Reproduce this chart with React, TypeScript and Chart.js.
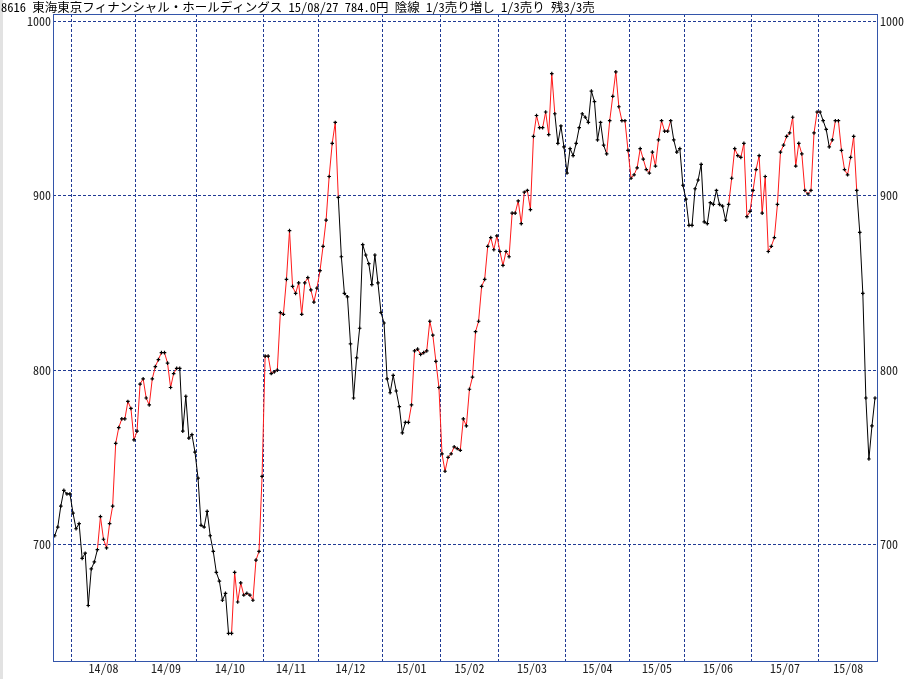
import React, { useEffect, useRef } from 'react';
import { Chart, registerables } from 'chart.js';

Chart.register(...registerables);

const TITLE = '8616 東海東京フィナンシャル・ホールディングス 15/08/27 784.0円 陰線 1/3売り増し 1/3売り 残3/3売';

const monthLabels = ['14/08', '14/09', '14/10', '14/11', '14/12', '15/01', '15/02', '15/03', '15/04', '15/05', '15/06', '15/07', '15/08'];
// index of the first trading day of each month in the closes array
const monthStartIndex = [6, 27, 47, 69, 87, 108, 127, 146, 168, 189, 207, 229, 251];
const priceTicks = [700, 800, 900, 1000];

// daily closes, 2014/07/24 .. 2015/08/27
const closes = [
  705, 710, 722, 731, 729, 729,
  718, 709, 712, 692, 695, 665, 686, 690, 697, 716, 703, 698, 712, 722, 758, 767, 772, 772, 782, 778, 760,
  765, 792, 795, 784, 780, 795, 802, 806, 810, 810, 804, 790, 798, 801, 801, 765, 785, 761, 763, 753,
  738, 711, 710, 719, 705, 696, 684, 679, 668, 672, 649, 649, 684, 667, 678, 671, 672, 671, 668, 691, 696, 739,
  808, 808, 798, 799, 800, 833, 832, 852, 880, 848, 844, 850, 832, 850, 853, 846, 839, 847,
  857, 871, 886, 911, 930, 942, 899, 865, 844, 842, 815, 784, 807, 824, 872, 866, 861, 849, 866, 850, 833,
  827, 795, 787, 797, 788, 779, 764, 770, 770, 780, 811, 812, 809, 810, 811, 828, 820, 805, 790,
  752, 742, 750, 752, 756, 755, 754, 772, 768, 789, 796, 822, 828, 848, 852, 871, 876, 869, 877,
  868, 860, 868, 865, 890, 890, 897, 884, 902, 903, 892, 934, 946, 939, 939, 948, 935, 970, 947, 930, 940, 928,
  913, 927, 923, 930, 939, 947, 945, 942, 960, 954, 932, 942, 929, 924, 943, 957, 971, 951, 943, 943, 926,
  910, 912, 916, 927, 921, 915, 913, 925, 917, 932, 943, 937, 937, 943, 932, 925, 927, 906,
  898, 883, 883, 904, 909, 918, 885, 884, 896, 895, 903, 895, 894, 886, 895, 910, 927, 923, 922, 930, 888, 891,
  903, 915, 923, 890, 911, 868, 871, 876, 895, 925, 929, 934, 936, 945, 917, 930, 924, 903, 901, 903, 936, 948,
  948, 943, 938, 928, 932, 943, 943, 926, 915, 912, 922, 934, 903, 879, 844, 784, 749, 768, 784,
];

// segment index ranges [from, to) drawn in the up-trend colour
const upTrendSpans: number[][] = [[14, 41], [58, 93], [116, 164], [181, 202], [221, 251], [254, 263]];

const RED = '#ff1a1a';
const BLACK = '#000000';
const GRID = '#203a94';
const FRAME = '#3355aa';
const FONT_FAMILY = '"Noto Sans Mono CJK JP", "Noto Sans CJK JP", monospace';

const X_MIN = -0.56;
const X_MAX = 269.98;
const Y_MIN = 632.6;
const Y_MAX = 1004.2;

export default function App() {
  const ref = useRef<HTMLCanvasElement | null>(null);

  useEffect(() => {
    if (!ref.current) return;
    const boundaries = monthStartIndex.map((s) => s - 0.5);
    const centers = boundaries.map((b, k) => (b + (k + 1 < boundaries.length ? boundaries[k + 1] : X_MAX)) / 2);
    const isUp = (s: number) => upTrendSpans.some(([a, b]) => s >= a && s < b);

    const bgPlugin = {
      id: 'bg',
      beforeDraw(chart: any) {
        const { ctx } = chart;
        ctx.save();
        ctx.fillStyle = '#ffffff';
        ctx.fillRect(0, 0, chart.width, chart.height);
        ctx.fillStyle = '#e2e2e2';
        ctx.fillRect(0, 0, 3, chart.height);
        ctx.restore();
      },
      afterDraw(chart: any) {
        const { ctx, chartArea } = chart;
        ctx.save();
        ctx.strokeStyle = FRAME;
        ctx.lineWidth = 1;
        ctx.strokeRect(chartArea.left + 0.5, chartArea.top + 0.5, chartArea.right - chartArea.left - 1, chartArea.bottom - chartArea.top - 1);
        ctx.fillStyle = '#000';
        ctx.font = '12.5px ' + FONT_FAMILY;
        ctx.textBaseline = 'middle';
        ctx.textAlign = 'left';
        ctx.fillText(TITLE, 1, 7);
        ctx.restore();
      },
    };

    const font = { family: FONT_FAMILY, size: 12, lineHeight: 1 };

    const chart = new Chart(ref.current, {
      type: 'line',
      data: {
        datasets: [
          {
            data: closes.map((v, i) => ({ x: i, y: v })),
            borderWidth: 1,
            borderColor: BLACK,
            segment: { borderColor: (c: any) => (isUp(c.p0DataIndex) ? RED : BLACK) },
            pointStyle: 'cross',
            pointRadius: 1.8,
            pointHoverRadius: 1.8,
            pointBorderWidth: 1.2,
            pointBorderColor: '#000',
            pointBackgroundColor: '#000',
            tension: 0,
            fill: false,
          } as any,
        ],
      },
      options: {
        responsive: false,
        animation: false,
        events: [],
        layout: { padding: { top: 14, left: 0, right: 0, bottom: 0 } },
        plugins: { legend: { display: false }, tooltip: { enabled: false }, title: { display: false } },
        scales: {
          x: {
            type: 'linear',
            position: 'bottom',
            min: X_MIN,
            max: X_MAX,
            bounds: 'data',
            afterBuildTicks: (s: any) => {
              s.ticks = centers.map((v) => ({ value: v }));
            },
            afterFit: (s: any) => {
              s.height = 17;
            },
            ticks: {
              autoSkip: false,
              maxRotation: 0,
              minRotation: 0,
              padding: 0,
              font,
              color: '#222',
              callback: (_v: any, i: number) => monthLabels[i],
            },
            grid: { display: false, drawTicks: false },
            border: { display: false },
          },
          xg: {
            type: 'linear',
            position: 'bottom',
            min: X_MIN,
            max: X_MAX,
            bounds: 'data',
            afterBuildTicks: (s: any) => {
              s.ticks = boundaries.map((v) => ({ value: v }));
            },
            afterFit: (s: any) => {
              s.height = 0;
            },
            ticks: { display: false },
            grid: { color: GRID, lineWidth: 1, drawTicks: false },
            border: { display: false, dash: [3, 2] },
          },
          y: {
            type: 'linear',
            position: 'left',
            min: Y_MIN,
            max: Y_MAX,
            bounds: 'data',
            afterBuildTicks: (s: any) => {
              s.ticks = priceTicks.map((v) => ({ value: v }));
            },
            afterFit: (s: any) => {
              s.width = 53;
            },
            ticks: { padding: 2, font, color: '#222', callback: (v: any) => String(v) },
            grid: { color: GRID, lineWidth: 1, drawTicks: false },
            border: { display: false, dash: [3, 2] },
          },
          y2: {
            type: 'linear',
            position: 'right',
            min: Y_MIN,
            max: Y_MAX,
            bounds: 'data',
            afterBuildTicks: (s: any) => {
              s.ticks = priceTicks.map((v) => ({ value: v }));
            },
            afterFit: (s: any) => {
              s.width = 29;
            },
            ticks: { padding: 2, font, color: '#222', callback: (v: any) => String(v) },
            grid: { display: false, drawTicks: false },
            border: { display: false },
          },
        },
      } as any,
      plugins: [bgPlugin],
    });
    return () => chart.destroy();
  }, []);

  return (
    <div style={{ position: 'fixed', left: 0, top: 0, width: 907, height: 679 }}>
      <canvas ref={ref} width={907} height={679} style={{ display: 'block' }} />
    </div>
  );
}
